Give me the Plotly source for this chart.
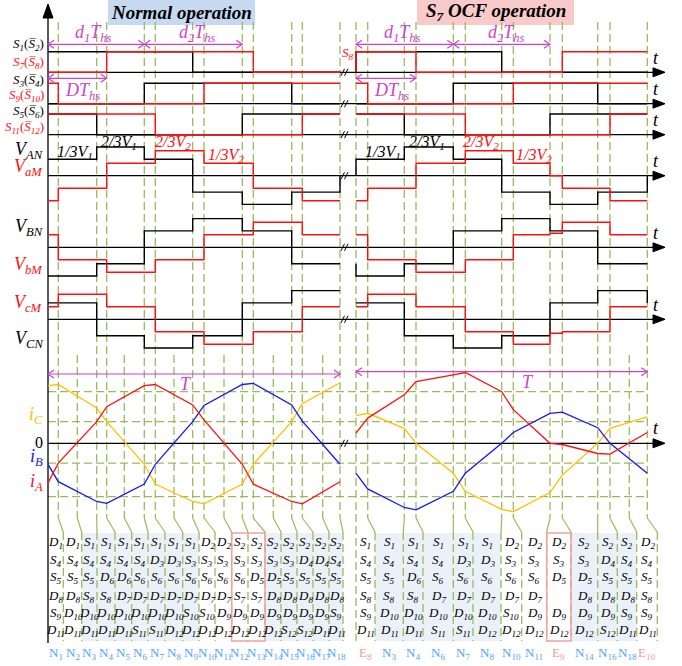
import plotly.graph_objects as go

# ======================= DATA =======================
# switching instants along the time axis (normal period / faulty period)
L_T = [48, 58.3, 96.7, 106.7, 144.3, 155.3, 192.7, 204, 242.3, 253.3, 291.7, 302.3, 340]
R_T = [356, 367.7, 404.3, 416, 453.3, 465.3, 501.7, 513.3, 550, 562.3, 597.7, 610, 647.3]
L_EXTRA_T = [77.3, 124.3, 174, 224, 273.3, 322.7]
R_EXTRA_T = [629.3]

# gate signals: instants and logic state (1 = on)
S1_L_T, S1_L = [48, 192.7, 340], [1, 0, 0]
S7_L_T, S7_L = [48, 106.7, 253.3, 340], [0, 1, 0, 0]
S3_L_T, S3_L = [48, 144.3, 291.7, 340], [0, 1, 0, 0]
S9_L_T, S9_L = [48, 58.3, 204, 340], [1, 0, 1, 1]
S5_L_T, S5_L = [48, 96.7, 242.3, 340], [1, 0, 1, 1]
S11_L_T, S11_L = [48, 155.3, 302.3, 340], [1, 0, 1, 1]
S1_R_T, S1_R = [356, 356, 501.7, 647.3], [0, 1, 0, 0]
S8_R_T, S8_R = [356, 356, 416, 562.3, 647.3], [0, 1, 0, 1, 1]
S3_R_T, S3_R = [356, 453.3, 597.7, 647.3], [0, 1, 0, 0]
S9_R_T, S9_R = [356, 367.7, 513.3, 647.3], [1, 0, 1, 1]
S5_R_T, S5_R = [356, 404.3, 550, 647.3], [1, 0, 1, 1]
S11_R_T, S11_R = [356, 465.3, 610, 647.3], [1, 0, 1, 1]

# phase voltages in thirds (black: V1 side, red: V2 side)
VN_L_T = [48, 96.7, 144.3, 192.7, 242.3, 291.7, 340, 340]
VAN_L = [1, 2, 1, -1, -2, -1, -1, 0]
VBN_L = [-2, -1, 1, 2, 1, -1, -1, -1]
VCN_L = [1, -1, -2, -1, 1, 2, 2, 2]
VM_L_T = [48, 58.3, 106.7, 155.3, 204, 253.3, 302.3, 340]
VaM_L = [-2, -1, 1, 2, 1, -1, -2, -2]
VbM_L = [1, -1, -2, -1, 1, 2, 1, 1]
VcM_L = [1, 2, 1, -1, -2, -1, 1, 1]
VN_R_T = [356, 356, 404.3, 453.3, 501.7, 550, 597.7, 647.3, 647.3]
VAN_R = [0, 1, 2, 1, -1, -2, -1, -1, 0]
VBN_R = [-1, -2, -1, 1, 2, 1, -1, -1, -1]
VCN_R = [1, 1, -1, -2, -1, 1, 2, 2, 1]
VM_R_T = [356, 367.7, 416, 465.3, 513.3, 550, 562.3, 610, 647.3]
VaM_R = [-2, -1, 1, 2, 1, 0, -1, -2, -2]
VbM_R = [1, -1, -2, -1, 1, 1.12, 2, 1, 1]
VcM_R = [1, 2, 1, -1, -2, -1.12, -1, 1, 1]

# phase currents (per unit of peak) at the switching instants
IA_L = [-0.66, -0.33, 0.36, 0.61, 0.96, 0.98, 0.64, 0.39, -0.35, -0.68, -0.97, -1.01, -0.64]
IB_L = [-0.35, -0.64, -0.97, -1.0, -0.68, -0.35, 0.36, 0.63, 0.98, 1.0, 0.64, 0.37, -0.35]
IC_L = [0.96, 0.98, 0.59, 0.36, -0.35, -0.68, -0.97, -1.01, -0.68, -0.35, 0.36, 0.66, 1.01]
IA_R = [0.17, 0.42, 0.81, 1.03, 1.14, 1.18, 0.86, 0.56, 0.0, -0.02, -0.17, -0.18, 0.18]
IB_R = [-0.5, -0.76, -1.07, -1.11, -0.8, -0.5, 0.0, 0.18, 0.5, 0.52, 0.26, 0.0, -0.5]
IC_R = [0.46, 0.5, 0.25, 0.0, -0.5, -0.8, -1.1, -1.14, -0.82, -0.53, 0.0, 0.25, 0.44]
I_GRID = [0.86, 0.36, -0.33, -0.89]

# conduction-state table
L_COLS = ["N1", "N2", "N3", "N4", "N5", "N6", "N7", "N8", "N9", "N10", "N11", "N12",
          "N13", "N14", "N15", "N16", "N17", "N18"]
L_TABLE = [
    ["D1", "S4", "S5", "D8", "S9", "D11"],
    ["D1", "S4", "S5", "D8", "D10", "D11"],
    ["S1", "S4", "S5", "S8", "D10", "D11"],
    ["S1", "S4", "D6", "S8", "D10", "D11"],
    ["S1", "S4", "D6", "D7", "D10", "D11"],
    ["S1", "S4", "S6", "D7", "D10", "S11"],
    ["S1", "D3", "S6", "D7", "D10", "S11"],
    ["S1", "D3", "S6", "D7", "D10", "D12"],
    ["S1", "S3", "S6", "D7", "S10", "D12"],
    ["D2", "S3", "S6", "D7", "S10", "D12"],
    ["D2", "S3", "S6", "D7", "D9", "D12"],
    ["S2", "S3", "S6", "S7", "D9", "D12"],
    ["S2", "S3", "D5", "S7", "D9", "D12"],
    ["S2", "S3", "D5", "D8", "D9", "D12"],
    ["S2", "S3", "S5", "D8", "D9", "S12"],
    ["S2", "D4", "S5", "D8", "D9", "S12"],
    ["S2", "D4", "S5", "D8", "D9", "D11"],
    ["S2", "S4", "S5", "D8", "S9", "D11"],
]
R_COLS = ["E8", "N3", "N4", "N6", "N7", "N8", "N10", "N11", "E9", "N14", "N16", "N18", "E10"]
R_TABLE = [
    ["S1", "S4", "S5", "S8", "S9", "D11"],
    ["S1", "S4", "S5", "S8", "D10", "D11"],
    ["S1", "S4", "D6", "S8", "D10", "D11"],
    ["S1", "S4", "S6", "D7", "D10", "S11"],
    ["S1", "D3", "S6", "D7", "D10", "S11"],
    ["S1", "D3", "S6", "D7", "D10", "D12"],
    ["D2", "S3", "S6", "D7", "S10", "D12"],
    ["D2", "S3", "S6", "D7", "D9", "D12"],
    ["D2", "S3", "D5", "", "D9", "D12"],
    ["S2", "S3", "D5", "D8", "D9", "D12"],
    ["S2", "D4", "S5", "D8", "D9", "S12"],
    ["S2", "S4", "S5", "D8", "S9", "D11"],
    ["D2", "S4", "S5", "S8", "S9", "D11"],
]
L_BOUND = [63.3, 81.7, 97, 115, 131.7, 148, 165, 182.7, 199, 215, 231.7, 248, 265, 281, 297, 313, 329, 343]
R_BOUND = [375, 403.3, 423, 453.3, 473, 501, 521.7, 546.7, 571, 597.7, 617.3, 636.7, 657.3]

# ======================= LAYOUT CONSTANTS =======================
W, H = 682, 666
X0, XEND = 48, 665
ROW_HI = [51.7, 83.3, 114]
ROW_LO = [72.3, 103.7, 134.7]
V_AX = [175.7, 247.3, 319.3]
I_AX = 443.3
I_SCALE = 60
AXES_Y = ROW_LO + V_AX + [I_AX]
GREEN = "#9BBB59"
MAG = "#CC44CC"
RED = "#FF1010"
BLUE = "#1515FF"
ORANGE = "#FFC000"
FONT = "Liberation Serif"
DASH = "8px,4px"

fig = go.Figure()
shapes = []
ann = []


def line(xs, ys, color, width=1.3, dash=None, shape="linear", fill=None):
    fig.add_trace(go.Scatter(x=xs, y=ys, mode="lines", hoverinfo="skip",
                             line=dict(color=color, width=width, dash=dash, shape=shape),
                             fill=fill, fillcolor=color if fill else None))


def text(x, y, s, size=14, color="black", xanchor="center"):
    ann.append(dict(x=x, y=y, xref="x", yref="y", text=s, showarrow=False,
                    xanchor=xanchor, yanchor="middle",
                    font=dict(family=FONT, size=size, color=color)))


def sub(tok):
    return "<i>%s<sub>%s</sub></i>" % (tok[0], tok[1:])


# ---------------- background boxes ----------------
TOP, BOT = 533, 641
bg = "#EBF1F9"
for xa, xb in [(L_BOUND[1], L_BOUND[8]), (L_BOUND[12], L_BOUND[17]),
               (R_BOUND[0], R_BOUND[5]), (R_BOUND[8], R_BOUND[11])]:
    shapes.append(dict(type="rect", xref="x", yref="y", x0=xa, x1=xb, y0=TOP, y1=BOT,
                       fillcolor=bg, line=dict(width=0), layer="below"))
for xa, xb in [(L_BOUND[10], L_BOUND[12]), (R_BOUND[7], R_BOUND[8])]:
    shapes.append(dict(type="rect", xref="x", yref="y", x0=xa, x1=xb, y0=TOP, y1=BOT,
                       fillcolor="rgba(0,0,0,0)", line=dict(color="#F4A0A0", width=1.5)))
shapes.append(dict(type="rect", xref="x", yref="y", x0=108, x1=255, y0=0, y1=25,
                   fillcolor="#C6D9F1", line=dict(width=0), layer="below"))
shapes.append(dict(type="rect", xref="x", yref="y", x0=417, x1=574, y0=0, y1=25,
                   fillcolor="#F8CACA", line=dict(width=0), layer="below"))

# ---------------- green dashed grid ----------------
gx, gy = [], []
main_l = L_T[1:]
main_r = R_T[1:]
for x in main_l + main_r + L_EXTRA_T + R_EXTRA_T:
    y0 = 22 if x in main_l + main_r else 355
    gx += [x, x, None]
    gy += [y0, 518, None]
gx += [R_T[0], R_T[0], None]
gy += [22, BOT, None]
for b in L_BOUND + R_BOUND:
    gx += [b, b, None]
    gy += [532, BOT, None]
for v in I_GRID:
    gx += [X0, R_T[-1], None]
    gy += [I_AX - v * I_SCALE] * 2 + [None]
line(gx, gy, GREEN, 1.3, DASH)

# slanted connectors
sx, sy = [], []
l_all = sorted(L_T[1:] + L_EXTRA_T)
r_all = sorted(R_T[1:] + R_EXTRA_T)
for xd, xb in list(zip(l_all, L_BOUND)) + list(zip(r_all, R_BOUND)):
    sx += [xd, xb, None]
    sy += [518, 532, None]
line(sx, sy, GREEN, 1.2)

# ---------------- axes ----------------
ax_x, ax_y = [X0, X0, None], [12, 643, None]
for y in AXES_Y:
    ax_x += [X0, XEND - 6, None]
    ax_y += [y, y, None]
line(ax_x, ax_y, "black", 1.3)
tx, ty = [], []
for y in AXES_Y:
    tx += [XEND - 12, XEND, XEND - 12, XEND - 12, None]
    ty += [y - 4.5, y, y + 4.5, y - 4.5, None]
tx += [X0 - 5, X0, X0 + 5, X0 - 5]
ty += [18, 4, 18, 18]
line(tx, ty, "black", 1, fill="toself")
bx, by = [], []
for y in AXES_Y:
    for off in (0, 3.5):
        bx += [341 + off, 344.5 + off, None]
        by += [y + 3.5, y - 3.5, None]
line(bx, by, "black", 1)

# ---------------- gate signals ----------------
def gate(ts, st, row, color):
    ys = [ROW_LO[row] - s * (ROW_LO[row] - ROW_HI[row]) for s in st]
    line(ts, ys, color, 1.4, shape="hv")


gate(S1_L_T, S1_L, 0, "black"); gate(S1_R_T, S1_R, 0, "black")
gate(S3_L_T, S3_L, 1, "black"); gate(S3_R_T, S3_R, 1, "black")
gate(S5_L_T, S5_L, 2, "black"); gate(S5_R_T, S5_R, 2, "black")
gate(S7_L_T, S7_L, 0, RED); gate(S8_R_T, S8_R, 0, RED)
gate(S9_L_T, S9_L, 1, RED); gate(S9_R_T, S9_R, 1, RED)
gate(S11_L_T, S11_L, 2, RED); gate(S11_R_T, S11_R, 2, RED)

# ---------------- voltages ----------------
def volt(ts, lv, ax, color):
    if color == "black":
        ys = [ax - ((4.1 + 12.3 * abs(v)) * (1 if v > 0 else -1) if v != 0 else 0) for v in lv]
    else:
        ys = [ax - 12.5 * v for v in lv]
    line(ts, ys, color, 1.4, shape="hv")


volt(VN_L_T, VAN_L, V_AX[0], "black"); volt(VN_R_T, VAN_R, V_AX[0], "black")
volt(VN_L_T, VBN_L, V_AX[1], "black"); volt(VN_R_T, VBN_R, V_AX[1], "black")
volt(VN_L_T, VCN_L, V_AX[2], "black"); volt(VN_R_T, VCN_R, V_AX[2], "black")
volt(VM_L_T, VaM_L, V_AX[0], RED); volt(VM_R_T, VaM_R, V_AX[0], RED)
volt(VM_L_T, VbM_L, V_AX[1], RED); volt(VM_R_T, VbM_R, V_AX[1], RED)
volt(VM_L_T, VcM_L, V_AX[2], RED); volt(VM_R_T, VcM_R, V_AX[2], RED)

# ---------------- currents ----------------
for vals_l, vals_r, col in [(IC_L, IC_R, ORANGE), (IB_L, IB_R, BLUE), (IA_L, IA_R, RED)]:
    line(L_T, [I_AX - v * I_SCALE for v in vals_l], col, 1.3)
    line(R_T, [I_AX - v * I_SCALE for v in vals_r], col, 1.3)

# ---------------- magenta dimension arrows ----------------
def darrow(xa, xb, y):
    xs = [xa, xb, None, xa + 6, xa, xa + 6, None, xb - 6, xb, xb - 6, None]
    ys = [y, y, None, y - 4, y, y + 4, None, y - 4, y, y + 4, None]
    line(xs, ys, MAG, 1.2)


for T in (L_T, R_T):
    darrow(T[0], T[4], 44.3)
    darrow(T[4], T[8], 44.3)
    darrow(T[0], T[3], 78.3)
darrow(L_T[0], L_T[-1], 374)
darrow(R_T[0], R_T[-1], 371.7)

dths = "<i>d<sub>%s</sub>T<sub>hs</sub></i>"
for xo in (0, 309):
    text(93 + xo, 33, dths % "1", 18, MAG)
    text(197 + xo, 33, dths % "2", 18, MAG)
    text(82 + xo, 91, "<i>DT<sub>hs</sub></i>", 18, MAG)
text(186, 384, "<i>T</i>", 18, MAG)
text(528, 382, "<i>T</i>", 18, MAG)

# ---------------- titles ----------------
text(181, 12, "<b><i>Normal operation</i></b>", 19)
text(496, 12, "<b><i>S<sub>7</sub> OCF operation</i></b>", 19)

# ---------------- left labels ----------------
OV = "\u0305"
sw_labels = [
    (44, "<i>S<sub>1</sub></i>(<i>S%s<sub>2</sub></i>)" % OV, "black"),
    (62, "<i>S<sub>7</sub></i>(<i>S%s<sub>8</sub></i>)" % OV, RED),
    (80, "<i>S<sub>3</sub></i>(<i>S%s<sub>4</sub></i>)" % OV, "black"),
    (95, "<i>S<sub>9</sub></i>(<i>S%s<sub>10</sub></i>)" % OV, RED),
    (111.7, "<i>S<sub>5</sub></i>(<i>S%s<sub>6</sub></i>)" % OV, "black"),
    (127, "<i>S<sub>11</sub></i>(<i>S%s<sub>12</sub></i>)" % OV, RED),
]
for y, s, c in sw_labels:
    text(46, y, s, 13, c, xanchor="right")
text(356, 53, "<i>S<sub>8</sub></i>", 13, RED, xanchor="right")

v_labels = [(150, "<i>V<sub>AN</sub></i>", "black"), (167, "<i>V<sub>aM</sub></i>", RED),
            (227, "<i>V<sub>BN</sub></i>", "black"), (265, "<i>V<sub>bM</sub></i>", RED),
            (303, "<i>V<sub>cM</sub></i>", RED), (339, "<i>V<sub>CN</sub></i>", "black")]
for y, s, c in v_labels:
    text(45, y, s, 18, c, xanchor="right")

text(45, 415, "<i>i<sub>C</sub></i>", 18, ORANGE, xanchor="right")
text(45, 457, "<i>i<sub>B</sub></i>", 18, BLUE, xanchor="right")
text(45, 482, "<i>i<sub>A</sub></i>", 18, RED, xanchor="right")
text(45, 442, "0", 16, "black", xanchor="right")

for y in [58, 89, 120, 161, 233, 305, 428]:
    text(656, y, "<i>t</i>", 18)

for xo in (0, 308):
    text(75 + xo, 152, "<i>1/3V<sub>1</sub></i>", 16, "black")
    text(119 + xo, 142, "<i>2/3V<sub>1</sub></i>", 16, "black")
    text(173 + xo, 142, "<i>2/3V<sub>2</sub></i>", 16, RED)
    text(226 + xo, 155, "<i>1/3V<sub>2</sub></i>", 16, RED)

# ---------------- table ----------------
ROWS_Y = [542, 560, 577.5, 596, 613, 630.5]


def table(cols, data, bounds, left):
    edges = [left] + bounds
    for i, (name, col) in enumerate(zip(cols, data)):
        cx = (edges[i] + edges[i + 1]) / 2
        for tok, y in zip(col, ROWS_Y):
            if tok:
                text(cx, y, sub(tok), 13)
        c = "#F29A9A" if name.startswith("E") else "#4DA3FF"
        text(cx, 653, "%s<sub>%s</sub>" % (name[0], name[1:]), 13, c)


table(L_COLS, L_TABLE, L_BOUND, X0)
table(R_COLS, R_TABLE, R_BOUND, R_T[0])

fig.update_layout(
    width=W, height=H, margin=dict(l=0, r=0, t=0, b=0),
    paper_bgcolor="white", plot_bgcolor="white", showlegend=False,
    xaxis=dict(range=[0, W], visible=False, fixedrange=True),
    yaxis=dict(range=[H, 0], visible=False, fixedrange=True),
    shapes=shapes, annotations=ann,
)
fig.write_html("out.html")
